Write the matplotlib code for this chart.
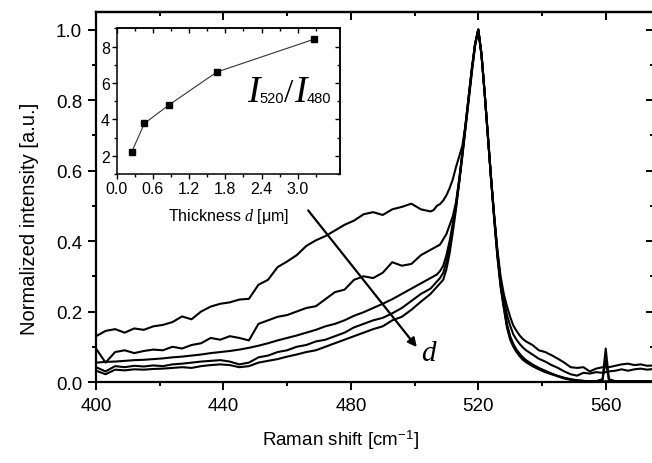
import matplotlib
matplotlib.use("Agg")
import matplotlib.pyplot as plt
from matplotlib.ticker import MultipleLocator, FormatStrFormatter, FixedLocator

plt.rcParams['font.family'] = ['Liberation Sans', 'DejaVu Sans']
plt.rcParams['mathtext.fontset'] = 'custom'
plt.rcParams['mathtext.rm'] = 'Liberation Sans'
plt.rcParams['mathtext.it'] = 'Liberation Serif:italic'
plt.rcParams['mathtext.bf'] = 'Liberation Sans:bold'

# ---------------- data ----------------
raman_shift = [400, 403, 406, 409, 412, 415, 418, 421, 424, 427, 430, 433, 436, 439, 442, 445, 448, 451,
               454, 457, 460, 463, 466, 469, 472, 475, 478, 481, 484, 487, 490, 493, 496, 499, 502, 505,
               506, 507, 508, 509, 510, 511, 512, 513, 514, 515, 516, 517, 518, 519, 520,
               521, 522, 523, 524, 525, 526, 527, 528, 529, 530, 531, 532, 533, 534, 535,
               537, 539, 541, 543, 545, 547, 549, 551, 553, 555, 557, 559, 560, 561, 563, 565, 567,
               569, 571, 573, 575]

spec_a = [.130, .145, .150, .140, .152, .148, .158, .162, .170, .186, .178, .200, .214, .222, .226, .234, .236, .276,
          .290, .326, .342, .360, .386, .402, .414, .430, .446, .458, .476, .482, .474, .490, .497, .506, .490, .484,
          .488, .500, .505, .515, .530, .550, .575, .610, .640, .670, .730, .810, .890, .960, 1.000,
          .930, .820, .700, .580, .470, .375, .300, .250, .215, .185, .160, .145, .132, .122, .115,
          .105, .090, .085, .076, .066, .055, .042, .040, .042, .030, .038, .042, .046, .042, .046, .050, .052,
          .048, .050, .046, .047]

spec_b = [.095, .055, .085, .090, .082, .088, .092, .090, .100, .095, .105, .110, .125, .120, .130, .125, .118, .165,
          .175, .185, .190, .200, .210, .215, .235, .255, .262, .290, .300, .295, .310, .340, .330, .335, .360, .375,
          .380, .385, .390, .405, .420, .445, .470, .510, .575, .650, .730, .810, .890, .960, 1.000,
          .930, .820, .700, .580, .470, .370, .290, .235, .190, .160, .135, .120, .108, .098, .090,
          .078, .066, .058, .048, .040, .030, .022, .018, .026, .024, .028, .026, .028, .030, .032, .036, .032,
          .036, .038, .035, .037]

spec_c = [.055, .057, .058, .060, .062, .063, .065, .067, .070, .072, .075, .078, .082, .085, .088, .092, .097, .103,
          .110, .118, .125, .132, .140, .148, .158, .165, .175, .188, .198, .210, .222, .235, .250, .265, .280, .295,
          .300, .305, .315, .330, .360, .400, .450, .500, .570, .650, .730, .810, .890, .960, 1.000,
          .930, .820, .700, .580, .470, .365, .280, .220, .165, .130, .108, .092, .080, .070, .062,
          .050, .040, .032, .024, .017, .011, .007, .004, .003, .002, .002, .008, .095, .008, .002, .002, .002,
          .002, .002, .002, .002]

spec_d = [.042, .030, .045, .042, .046, .044, .047, .045, .050, .052, .055, .058, .060, .062, .058, .050, .055, .070,
          .075, .085, .090, .100, .105, .115, .120, .130, .140, .155, .165, .175, .182, .195, .210, .230, .250, .265,
          .275, .285, .295, .310, .340, .385, .440, .500, .570, .645, .725, .805, .885, .955, 1.000,
          .930, .820, .700, .580, .465, .360, .275, .215, .160, .125, .104, .088, .076, .066, .059,
          .047, .038, .030, .023, .016, .010, .006, .004, .003, .002, .002, .006, .060, .006, .002, .002, .002,
          .002, .002, .002, .002]

spec_e = [.032, .022, .035, .033, .036, .035, .037, .038, .040, .042, .040, .045, .048, .050, .048, .042, .045, .055,
          .060, .065, .072, .078, .085, .090, .100, .110, .120, .130, .140, .150, .158, .175, .185, .205, .228, .250,
          .260, .270, .280, .290, .320, .365, .425, .490, .565, .640, .720, .800, .880, .955, 1.000,
          .930, .820, .700, .575, .460, .355, .270, .210, .155, .120, .100, .085, .073, .063, .056,
          .045, .036, .028, .022, .017, .012, .008, .005, .003, .002, .002, .002, .002, .002, .001, .001, .001,
          .001, .001, .001, .001]

thickness = [0.25, 0.46, 0.87, 1.66, 3.27]
ratio = [2.22, 3.78, 4.80, 6.60, 8.40]
inset_xticks = [0.0, 0.6, 1.2, 1.8, 2.4, 3.0]
inset_xminor = [0.3, 0.9, 1.5, 2.1, 2.7, 3.3]

spectra = [spec_a, spec_b, spec_c, spec_d, spec_e]

# ---------------- figure ----------------
W, H = 652, 464
fig = plt.figure(figsize=(W / 100, H / 100), dpi=100)

def fx(px):
    return px / W

def fy(py):
    return 1 - py / H

ax = fig.add_axes([fx(96), fy(383), fx(653.5) - fx(96), fy(13) - fy(383)])
for s in spectra:
    ax.plot(raman_shift, s, color='black', lw=1.5, solid_joinstyle='round')

ax.set_xlim(400, 575)
ax.set_ylim(0, 1.05)
ax.xaxis.set_major_locator(MultipleLocator(40))
ax.xaxis.set_minor_locator(MultipleLocator(20))
ax.yaxis.set_major_locator(MultipleLocator(0.2))
ax.yaxis.set_minor_locator(MultipleLocator(0.1))
ax.yaxis.set_major_formatter(FormatStrFormatter('%.1f'))
ax.tick_params(which='both', direction='out', top=False, right=False, width=1.4, labelsize=13.5)
ax.tick_params(which='major', length=6, pad=4)
ax.tick_params(which='minor', length=3)
ax.tick_params(axis='x', pad=5)
for sp in ax.spines.values():
    sp.set_linewidth(1.6)

secx = ax.secondary_xaxis('top')
secx.xaxis.set_major_locator(MultipleLocator(40))
secx.xaxis.set_minor_locator(MultipleLocator(20))
secx.tick_params(which='both', direction='in', labeltop=False, width=1.4)
secx.tick_params(which='major', length=6)
secx.tick_params(which='minor', length=3)
secx.spines['top'].set_linewidth(1.6)

secy = ax.secondary_yaxis('right')
secy.yaxis.set_major_locator(MultipleLocator(0.2))
secy.yaxis.set_minor_locator(MultipleLocator(0.1))
secy.tick_params(which='both', direction='in', labelright=False, width=1.4)
secy.tick_params(which='major', length=6)
secy.tick_params(which='minor', length=3)
secy.spines['right'].set_linewidth(1.6)

fig.text(fx(340), fy(440), 'Raman shift [cm$^{-1}$]', ha='center', va='center', fontsize=13.5)
fig.text(fx(30), fy(219), 'Normalized intensity [a.u.]', ha='center', va='center',
         rotation=90, fontsize=14.5)

# arrow and d
ax.annotate('', xy=(500.7, 0.099), xytext=(466.6, 0.487),
            arrowprops=dict(arrowstyle='-|>', color='black', lw=1.6, mutation_scale=13,
                            shrinkA=0, shrinkB=0))
ax.text(502.0, 0.062, 'd', family='Liberation Serif', style='italic', fontsize=21,
        ha='left', va='baseline')

# ---------------- inset ----------------
ins = fig.add_axes([fx(116.7), fy(175), fx(340) - fx(116.7), fy(29.3) - fy(175)])
ins.plot(thickness, ratio, color='#333333', lw=0.8, marker='s', markersize=4.5,
         markerfacecolor='black', markeredgecolor='black')
ins.set_xlim(0, 3.7)
ins.set_ylim(1, 9)
ins.xaxis.set_major_locator(FixedLocator(inset_xticks))
ins.xaxis.set_minor_locator(FixedLocator(inset_xminor))
ins.yaxis.set_major_locator(MultipleLocator(2))
ins.yaxis.set_minor_locator(MultipleLocator(1))
ins.xaxis.set_major_formatter(FormatStrFormatter('%.1f'))
ins.tick_params(which='both', direction='out', top=False, right=False, width=1.0, labelsize=11.5, pad=1.5)
ins.tick_params(which='major', length=3.5)
ins.tick_params(which='minor', length=2)
for sp in ins.spines.values():
    sp.set_linewidth(1.1)

isx = ins.secondary_xaxis('top')
isx.xaxis.set_major_locator(FixedLocator(inset_xticks))
isx.xaxis.set_minor_locator(FixedLocator(inset_xminor))
isx.tick_params(which='both', direction='in', labeltop=False, width=1.0)
isx.tick_params(which='major', length=3.5)
isx.tick_params(which='minor', length=2)
isx.spines['top'].set_linewidth(1.1)

isy = ins.secondary_yaxis('right')
isy.yaxis.set_major_locator(MultipleLocator(2))
isy.yaxis.set_minor_locator(MultipleLocator(1))
isy.tick_params(which='both', direction='in', labelright=False, width=1.0)
isy.tick_params(which='major', length=3.5)
isy.tick_params(which='minor', length=2)
isy.spines['right'].set_linewidth(1.1)

fig.text(fx(229), fy(217), 'Thickness $d$ [\u03bcm]', ha='center', va='center', fontsize=11.5)

# I520/I480 label, pieces placed one after another
fig.canvas.draw()
rend = fig.canvas.get_renderer()
pieces = [
    ('I', dict(family='Liberation Serif', style='italic', fontsize=27), 0, 0),
    ('520', dict(family='Liberation Sans', fontsize=10.5), 1, 0),
    ('/', dict(family='Liberation Serif', fontsize=24), 0, 0.5),
    ('I', dict(family='Liberation Serif', style='italic', fontsize=27), 0, 0),
    ('480', dict(family='Liberation Sans', fontsize=10.5), 1, 0),
]
xpos = 247.0
for txt, kw, dy, gap in pieces:
    t = fig.text(fx(xpos), fy(102 + dy), txt, ha='left', va='baseline', **kw)
    bb = t.get_window_extent(rend)
    xpos = bb.x1 + gap

fig.savefig('out.png', dpi=100)
